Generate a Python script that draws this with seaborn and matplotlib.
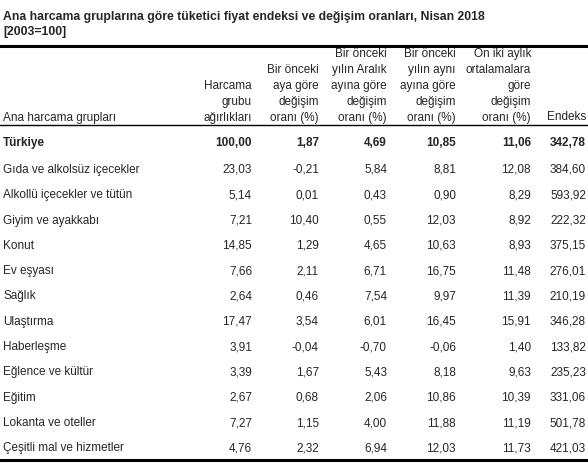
import matplotlib
matplotlib.use("Agg")
import matplotlib.pyplot as plt
import seaborn as sns

sns.set_theme(style="white")
plt.rcParams['font.family'] = ['Liberation Sans', 'DejaVu Sans']

title = "Ana harcama gruplarına göre tüketici fiyat endeksi ve değişim oranları, Nisan 2018"
subtitle = "[2003=100]"
headers = [
    ["Ana harcama grupları"],
    ["Harcama", "grubu", "ağırlıkları"],
    ["Bir önceki", "aya göre", "değişim", "oranı (%)"],
    ["Bir önceki", "yılın Aralık", "ayına göre", "değişim", "oranı (%)"],
    ["Bir önceki", "yılın aynı", "ayına göre", "değişim", "oranı (%)"],
    ["On iki aylık", "ortalamalara", "göre", "değişim", "oranı (%)"],
    ["Endeks"],
]
groups = ["Türkiye", "Gıda ve alkolsüz içecekler", "Alkollü içecekler ve tütün",
          "Giyim ve ayakkabı", "Konut", "Ev eşyası", "Sağlık", "Ulaştırma",
          "Haberleşme", "Eğlence ve kültür", "Eğitim", "Lokanta ve oteller",
          "Çeşitli mal ve hizmetler"]
weights = ["100,00", "23,03", "5,14", "7,21", "14,85", "7,66", "2,64", "17,47",
           "3,91", "3,39", "2,67", "7,27", "4,76"]
monthly = ["1,87", "-0,21", "0,01", "10,40", "1,29", "2,11", "0,46", "3,54",
           "-0,04", "1,67", "0,68", "1,15", "2,32"]
dec_change = ["4,69", "5,84", "0,43", "0,55", "4,65", "6,71", "7,54", "6,01",
              "-0,70", "5,43", "2,06", "4,00", "6,94"]
annual = ["10,85", "8,81", "0,90", "12,03", "10,63", "16,75", "9,97", "16,45",
          "-0,06", "8,18", "10,86", "11,88", "12,03"]
twelve_avg = ["11,06", "12,08", "8,29", "8,92", "8,93", "11,48", "11,39", "15,91",
              "1,40", "9,63", "10,39", "11,19", "11,73"]
index_vals = ["342,78", "384,60", "593,92", "222,32", "375,15", "276,01", "210,19",
              "346,28", "133,82", "235,23", "331,06", "501,78", "421,03"]

fig = plt.figure(figsize=(5.88, 4.63), dpi=100)
ax = fig.add_axes([0, 0, 1, 1])
ax.set_xlim(0, 588)
ax.set_ylim(463, 0)
ax.axis("off")

fs = 8.5
ax.text(3, 17, title, fontsize=8.8, fontweight="bold", va="center", ha="left")
ax.text(3, 32, subtitle, fontsize=8.8, fontweight="bold", va="center", ha="left")
ax.plot([0, 588], [45.5, 45.5], color="black", lw=2.2)
ax.plot([0, 588], [125, 125], color="black", lw=1.0)
ax.plot([0, 588], [460, 460], color="black", lw=2.2)

xs = [3, 252, 319, 387, 456, 531, 586]
bottom = 117.5
step = 15.8
for i, h in enumerate(headers):
    n = len(h)
    for j, line in enumerate(h):
        y = bottom - (n - 1 - j) * step
        ax.text(xs[i], y, line, fontsize=fs, va="center",
                ha="left" if i == 0 else "right")

cols = [weights, monthly, dec_change, annual, twelve_avg, index_vals]
for r, g in enumerate(groups):
    y = 143 if r == 0 else 170 + (r - 1) * 25.3
    fw = "bold" if r == 0 else "normal"
    ax.text(xs[0], y, g, fontsize=fs, va="center", ha="left", fontweight=fw)
    for c, col in enumerate(cols):
        ax.text(xs[c + 1], y, col[r], fontsize=fs, va="center", ha="right", fontweight=fw)

fig.savefig("out.png", dpi=100)
